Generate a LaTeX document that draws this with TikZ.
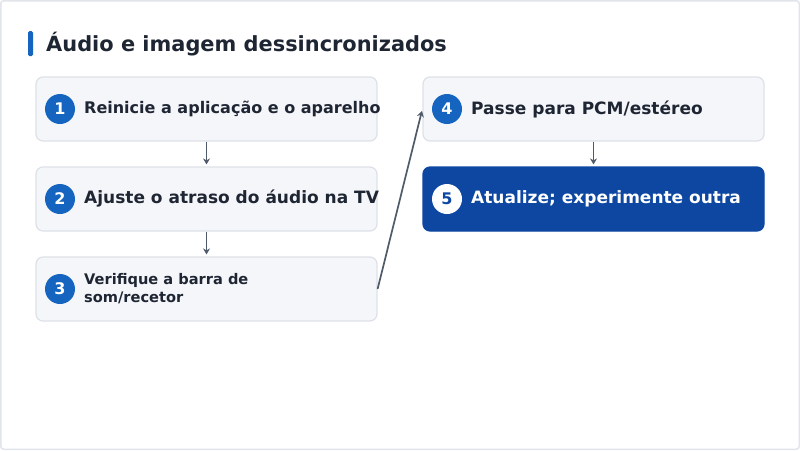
\documentclass[tikz,border=0pt]{standalone}
\usepackage{fontspec}
\setmainfont{DejaVu Sans}
\usetikzlibrary{arrows.meta}
\definecolor{framec}{HTML}{E1E4EA}
\definecolor{boxfill}{HTML}{F5F6FA}
\definecolor{boxline}{HTML}{DDE1E7}
\definecolor{accent}{HTML}{1565C0}
\definecolor{darkbox}{HTML}{0D47A1}
\definecolor{txt}{HTML}{1F2633}
\definecolor{arr}{HTML}{4F5B6A}
\tikzset{
  stepbox/.style={draw=boxline, line width=1.2pt, fill=boxfill, rounded corners=7pt, minimum width=341pt, minimum height=64pt, inner sep=0pt},
  darkstep/.style={draw=darkbox, line width=1.2pt, fill=darkbox, rounded corners=7pt, minimum width=341pt, minimum height=64pt, inner sep=0pt},
  numdot/.style={circle, fill=accent, minimum size=30pt, inner sep=0pt, text=white, font=\bfseries\fontsize{16}{19}\selectfont},
  numdotw/.style={circle, fill=white, minimum size=30pt, inner sep=0pt, text=darkbox, font=\bfseries\fontsize{16}{19}\selectfont},
  steptext/.style={anchor=west, inner sep=0pt, text=txt, font=\bfseries\fontsize{17}{20}\selectfont},
  fittext/.style={anchor=west, inner sep=0pt, text=txt, font=\bfseries\fontsize{16}{19}\selectfont},
  smalltext/.style={anchor=west, inner sep=0pt, text=txt, align=left, font=\bfseries\fontsize{14.6}{18}\selectfont},
  conn/.style={draw=arr, line width=1.7pt, shorten >=2pt, -{Stealth[length=6pt,width=7pt]}},
}
\begin{document}
\begin{tikzpicture}[x=1pt,y=-1pt]
\path[use as bounding box] (0,0) rectangle (800,450);
\draw[framec, line width=1.5pt, rounded corners=3pt] (0.75,0.75) rectangle (799.25,449.25);
% title
\fill[accent, rounded corners=1.5pt] (28,31) rectangle (33,56);
\node[anchor=west, inner sep=0pt, text=txt, font=\bfseries\fontsize{20.9}{25}\selectfont] (title) at (46,44) {Áudio e imagem dessincronizados};
% boxes
\node[stepbox] (b1) at (206.5,109) {};
\node[stepbox] (b2) at (206.5,199) {};
\node[stepbox] (b3) at (206.5,289) {};
\node[stepbox] (b4) at (593.5,109) {};
\node[darkstep] (b5) at (593.5,199) {};
% numbers
\node[numdot] (n1) at (60,109) {1};
\node[numdot] (n2) at (60,199) {2};
\node[numdot] (n3) at (60,289) {3};
\node[numdot] (n4) at (447,109) {4};
\node[numdotw] (n5) at (447,199) {5};
% texts
\node[fittext] (t1) at (84,109) {Reinicie a aplicação e o aparelho};
\node[steptext] (t2) at (84,199) {Ajuste o atraso do áudio na TV};
\node[smalltext] (t3) at (84,289) {Verifique a barra de\\som/recetor};
\node[steptext] (t4) at (471,109) {Passe para PCM/estéreo};
\node[steptext, text=white] (t5) at (471,199) {Atualize; experimente outra};
% connectors
\draw[conn] (b1.south) -- (b2.north);
\draw[conn] (b2.south) -- (b3.north);
\draw[conn] (b3.east) -- (b4.west);
\draw[conn] (b4.south) -- (b5.north);
\end{tikzpicture}
\end{document}
